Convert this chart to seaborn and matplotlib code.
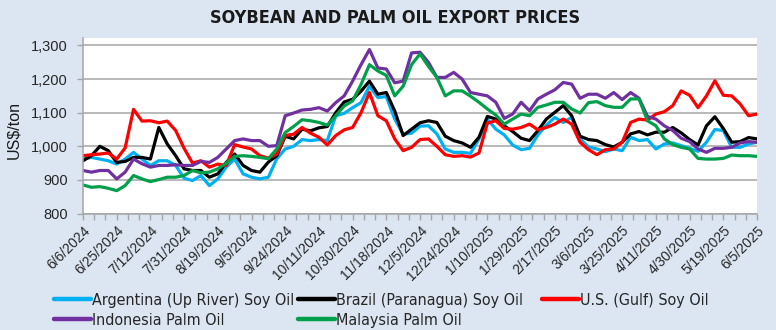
import numpy as np
import pandas as pd
import matplotlib
matplotlib.use("Agg")
import matplotlib.pyplot as plt
from matplotlib import font_manager as fm
import seaborn as sns
from matplotlib.lines import Line2D

# ---------------- data ----------------
# samples every quarter of a label interval (13 business days / 4)
label_step = 13
samples_per_label = 4

tick_labels = ["6/6/2024", "6/25/2024", "7/12/2024", "7/31/2024", "8/19/2024",
               "9/5/2024", "9/24/2024", "10/11/2024", "10/30/2024", "11/18/2024",
               "12/5/2024", "12/24/2024", "1/10/2025", "1/29/2025", "2/17/2025",
               "3/6/2025", "3/25/2025", "4/11/2025", "4/30/2025", "5/19/2025",
               "6/5/2025"]

argentina = [962, 967, 962, 957, 947, 962, 982, 962, 943, 957, 957, 943, 905, 898, 913, 883, 903, 938, 962, 918,
             908, 903, 908, 963, 992, 1000, 1020, 1017, 1020, 1017, 1091, 1098, 1115, 1130, 1179, 1145, 1148, 1081, 1036, 1039,
             1060, 1061, 1037, 992, 982, 982, 979, 1022, 1081, 1051, 1034, 1004, 990, 994, 1034, 1063, 1086, 1071, 1086, 1022,
             998, 992, 984, 992, 987, 1027, 1017, 1020, 992, 1007, 1010, 1002, 994, 985, 1012, 1050, 1047, 997, 997, 1007,
             1012]

brazil = [957, 972, 1000, 987, 952, 955, 967, 967, 962, 1056, 1007, 972, 933, 928, 928, 908, 918, 952, 977, 943,
          928, 923, 953, 972, 1030, 1022, 1051, 1046, 1055, 1059, 1100, 1132, 1140, 1164, 1194, 1155, 1160, 1105, 1032, 1051,
          1070, 1076, 1071, 1030, 1017, 1010, 997, 1027, 1089, 1081, 1061, 1044, 1024, 1017, 1047, 1081, 1101, 1121, 1091, 1030,
          1020, 1017, 1005, 998, 1012, 1037, 1044, 1034, 1042, 1042, 1056, 1040, 1020, 1004, 1061, 1088, 1053, 1012, 1014, 1026,
          1022]

us_gulf = [972, 975, 977, 980, 962, 995, 1110, 1075, 1076, 1070, 1075, 1047, 994, 950, 957, 938, 947, 943, 1005, 998,
           992, 972, 965, 977, 1032, 1036, 1056, 1039, 1027, 1004, 1032, 1049, 1056, 1100, 1160, 1091, 1076, 1022, 987, 997,
           1020, 1022, 1000, 975, 970, 972, 968, 980, 1069, 1076, 1053, 1051, 1056, 1066, 1049, 1056, 1066, 1081, 1066, 1012,
           990, 975, 990, 992, 1012, 1071, 1081, 1078, 1096, 1103, 1121, 1165, 1152, 1115, 1150, 1195, 1152, 1150, 1126, 1091,
           1096]

indonesia = [928, 923, 928, 928, 903, 923, 962, 948, 938, 943, 943, 945, 943, 943, 955, 952, 967, 992, 1017, 1022,
             1017, 1017, 1000, 1002, 1091, 1099, 1108, 1110, 1115, 1105, 1130, 1150, 1194, 1243, 1288, 1233, 1230, 1189, 1194, 1278,
             1280, 1250, 1205, 1205, 1220, 1200, 1160, 1155, 1150, 1131, 1083, 1096, 1131, 1106, 1141, 1155, 1168, 1190, 1185, 1143,
             1155, 1155, 1143, 1160, 1139, 1160, 1143, 1089, 1081, 1061, 1047, 1024, 1014, 992, 982, 994, 994, 997, 1010, 1014,
             1012]

malaysia = [885, 878, 880, 875, 868, 883, 913, 903, 895, 901, 908, 908, 913, 928, 921, 923, 933, 950, 970, 972,
            970, 967, 963, 992, 1041, 1059, 1079, 1076, 1071, 1063, 1091, 1120, 1135, 1184, 1243, 1224, 1211, 1150, 1179, 1243,
            1275, 1238, 1205, 1150, 1165, 1165, 1149, 1131, 1111, 1093, 1066, 1081, 1096, 1091, 1116, 1123, 1131, 1131, 1111, 1099,
            1130, 1133, 1121, 1116, 1116, 1141, 1141, 1076, 1061, 1022, 1005, 997, 992, 964, 962, 962, 964, 974, 972, 972,
            970]

series_names = ["Argentina (Up River) Soy Oil", "Brazil (Paranagua) Soy Oil", "U.S. (Gulf) Soy Oil",
                "Indonesia Palm Oil", "Malaysia Palm Oil"]
series_values = [argentina, brazil, us_gulf, indonesia, malaysia]
series_colors = ["#00b0f0", "#000000", "#ff0000", "#7030a0", "#00a04b"]

# ---------------- build table ----------------
step = label_step / samples_per_label
frames = []
for name, vals in zip(series_names, series_values):
    frames.append(pd.DataFrame({"day": np.arange(len(vals)) * step,
                                "price": vals, "series": name}))
df = pd.concat(frames, ignore_index=True)

# ---------------- style ----------------
sns.set_theme(style="white")
plt.rcParams["font.family"] = ["Liberation Sans", "DejaVu Sans"]
bg = "#dce6f2"
grid_c = "#a6a6a6"

# look for a condensed face (for title / legend, which use a narrow font in the reference)
has_dejavu_cond = any(f.name == "DejaVu Sans" and f.stretch in ("condensed", "semi-condensed")
                      for f in fm.fontManager.ttflist)
if has_dejavu_cond:
    title_font = dict(family="DejaVu Sans", stretch="condensed", weight="bold", size=13)
    legend_prop = fm.FontProperties(family="DejaVu Sans", stretch="condensed", size=11.5)
else:
    title_font = dict(family="Liberation Sans", weight="bold", size=12.5)
    legend_prop = fm.FontProperties(family="Liberation Sans", size=11.5)

fig = plt.figure(figsize=(7.76, 3.30), dpi=100, facecolor=bg)
ax = fig.add_axes([83 / 776, 1 - 213.5 / 330, 674 / 776, 175.5 / 330])
ax.set_facecolor("white")

palette = dict(zip(series_names, series_colors))
sns.lineplot(data=df, x="day", y="price", hue="series", hue_order=series_names,
             palette=palette, linewidth=2.3, legend=False, ax=ax,
             estimator=None, sort=False)

n_days = label_step * (len(tick_labels) - 1)
ax.set_xlim(0, n_days)
ax.set_ylim(800, 800 + 175.5 / 0.336)
ax.set_yticks([800, 900, 1000, 1100, 1200, 1300])
ax.set_yticklabels(["800", "900", "1,000", "1,100", "1,200", "1,300"], fontsize=10.5, color="#262626")
ax.yaxis.grid(True, color=grid_c, linewidth=1.1)
ax.xaxis.grid(False)
ax.set_axisbelow(True)

ax.set_xticks(np.arange(len(tick_labels)) * label_step)
ax.set_xticklabels(tick_labels, rotation=45, ha="right", rotation_mode="anchor",
                   fontsize=10, color="#262626")
ax.set_xticks(np.arange(0, n_days + 0.01, label_step / 3), minor=True)
ax.tick_params(axis="x", which="both", direction="out", length=4, width=1,
               color=grid_c, bottom=True, pad=3)
ax.tick_params(axis="y", direction="out", length=4, width=1, color=grid_c, left=True, pad=7)
ax.set_xlabel("")
ax.set_ylabel("")

for s in ["top", "right"]:
    ax.spines[s].set_visible(False)
for s in ["left", "bottom"]:
    ax.spines[s].set_color(grid_c)
    ax.spines[s].set_linewidth(1.1)

fig.text(395 / 776, 1 - 18 / 330, "SOYBEAN AND PALM OIL EXPORT PRICES", ha="center", va="center",
         color="#1a1a1a", **title_font)
fig.text(14 / 776, 1 - 130 / 330, "US$/ton", rotation=90, ha="center", va="center",
         fontsize=11.5, color="#1a1a1a")

# legend: three columns of equal width, as in the reference
handles = [Line2D([], [], color=c, lw=3.2, solid_capstyle="round") for c in series_colors]
columns = [([0, 3], 54), ([1, 4], 298), ([2], 542)]
for idx, xpix in columns:
    fig.legend([handles[i] for i in idx], [series_names[i] for i in idx],
               loc="upper left", bbox_to_anchor=(xpix / 776, 1 - 293 / 330),
               frameon=False, borderpad=0, borderaxespad=0, handlelength=2.3,
               handletextpad=0.05, labelspacing=0.3, prop=legend_prop)

fig.savefig("out.png", dpi=100, facecolor=bg)
